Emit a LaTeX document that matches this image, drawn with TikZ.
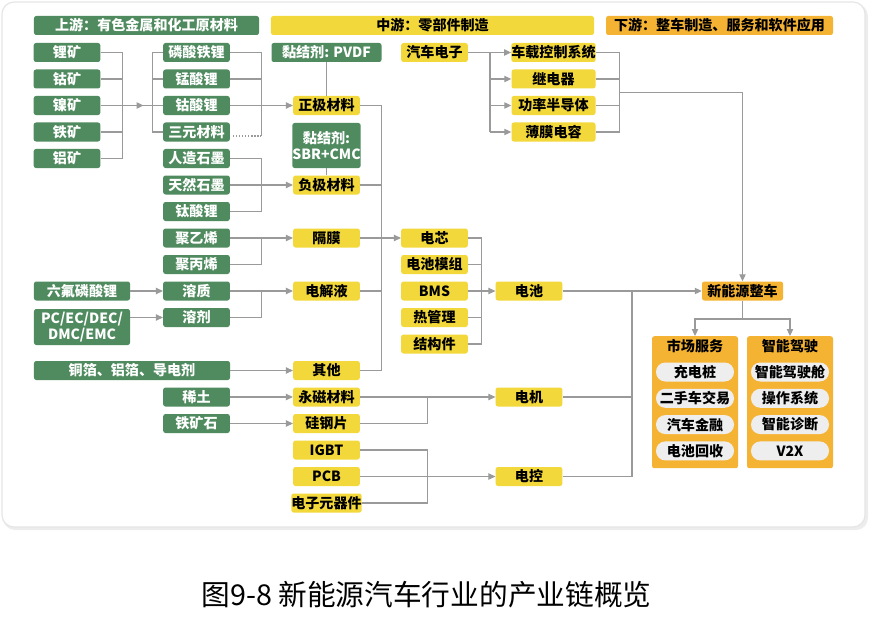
\documentclass[tikz,border=0pt]{standalone}
\usepackage{fontspec}
\setmainfont{Noto Sans CJK SC}
\usetikzlibrary{arrows.meta,positioning,calc}
\definecolor{Leaf}{HTML}{4F8B5F}
\definecolor{Sun}{HTML}{F3D83B}
\definecolor{Amber}{HTML}{F5B334}
\definecolor{Wire}{HTML}{9A9A9A}
\definecolor{Pill}{HTML}{EEEEEE}

\begin{document}
\begin{tikzpicture}[x=0.03cm,y=-0.03cm,
  box/.style={rounded corners=2pt,minimum height=0.57cm,inner sep=0pt,font=\bfseries\fontsize{12}{14}\selectfont},
  up/.style={box,fill=Leaf,text=white,minimum width=2.0cm},
  mid/.style={box,fill=Sun,text=black,minimum width=2.0cm},
  down/.style={box,fill=Amber,text=black},
  pill/.style={box,fill=Pill,rounded corners=0.28cm,minimum width=2.34cm},
  wire/.style={Wire,line width=0.9pt},
  feed/.style={wire,-{Triangle[length=2.1mm,width=1.9mm]}}]
\useasboundingbox (0,0) rectangle (877,620);
% card
\fill[black!7,rounded corners=0.36cm] (3,4) rectangle (868,530);
\draw[black!10,line width=1pt,fill=white,rounded corners=0.36cm] (2,2) rectangle (865,527);
% headers
\node[up,minimum width=6.75cm] (hup) at (146.5,25.5) {上游：有色金属和化工原材料};
\node[mid,minimum width=9.69cm] (hmid) at (432.5,25.5) {中游：零部件制造};
\node[down,minimum width=6.81cm] (hdown) at (719.5,25.5) {下游：整车制造、服务和软件应用};
% upstream
\foreach \n/\t [count=\i from 0] in {li/锂矿,co/钴矿,ni/镍矿,fe/铁矿,al/铝矿}
  \node[up] (\n) at (67,{52.5+26.5*\i}) {\t};
\foreach \n/\t [count=\i from 0] in {lfp/磷酸铁锂,lmo/锰酸锂,lco/钴酸锂,ncm/三元材料,agr/人造石墨,ngr/天然石墨,lto/钛酸锂,pe/聚乙烯,pp/聚丙烯,solu/溶质,solv/溶剂}
  \node[up] (\n) at (196.5,{52.5+26.5*\i}) {\t};
\node[up,minimum width=2.88cm] (lipf) at (82,291) {六氟磷酸锂};
\node[up,minimum width=2.88cm,minimum height=1.08cm,align=center] (solvsrc) at (82,327) {PC/EC/DEC/\\DMC/EMC};
\node[up,minimum width=5.88cm] (foil) at (132,370.5) {铜箔、铝箔、导电剂};
\node[up] (re) at (196.5,397) {稀土};
\node[up] (ironst) at (196.5,423.5) {铁矿石};
\node[up,minimum width=3.3cm] (pvdf) at (326.5,52.5) {黏结剂: PVDF};
\node[up,minimum height=1.35cm,align=center] (sbr) at (326.5,145.5) {黏结剂:\\SBR+CMC};
% midstream
\foreach \n/\t/\i in {cath/正极材料/2,anod/负极材料/5,sep/隔膜/7,elec/电解液/9,other/其他/12,pm/永磁材料/13,ss/硅钢片/14,igbt/IGBT/15,pcb/PCB/16,ecomp/电子元器件/17}
  \node[mid] (\n) at (326.5,{52.5+26.5*\i}) {\t};
\foreach \n/\t [count=\i from 7] in {cell/电芯,mod/电池模组,bms/BMS,therm/热管理,struct/结构件}
  \node[mid] (\n) at (434.5,{52.5+26.5*\i}) {\t};
\node[mid] (batt) at (529,291) {电池};
\node[mid] (motor) at (529,397) {电机};
\node[mid] (ctrl) at (529,476.5) {电控};
\node[mid] (auto) at (434.5,52.5) {汽车电子};
\foreach \n/\t [count=\i from 0] in {vcs/车载控制系统,relay/继电器,psemi/功率半导体,film/薄膜电容}
  \node[mid,minimum width=2.52cm] (\n) at (553.5,{52.5+26.5*\i}) {\t};
% downstream
\node[down,minimum width=2.43cm] (nev) at (742.5,291) {新能源整车};
\node[down,minimum width=2.58cm,minimum height=3.96cm,anchor=north] (mkt) at (695,336) {};
\node[down,minimum width=2.58cm,minimum height=3.96cm,anchor=north] (adas) at (790,336) {};
\node[box] (mkthead) at (695,346.5) {市场服务};
\node[box] (adashead) at (790,346.5) {智能驾驶};
\foreach \n/\t [count=\i from 0] in {chg/充电桩,used/二手车交易,fin/汽车金融,recy/电池回收}
  \node[pill] (\n) at (695,{372+26.3*\i}) {\t};
\foreach \n/\t [count=\i from 0] in {cock/智能驾驶舱,os/操作系统,diag/智能诊断,vtx/V2X}
  \node[pill] (\n) at (790,{372+26.3*\i}) {\t};
\node[font=\fontsize{24.5}{27}\selectfont] (cap) at (426.5,595) {图9-8 新能源汽车行业的产业链概览};

% ores -> cathode materials
\draw[wire] (li.east) -- ++(22,0) |- (al.east);
\foreach \n in {co,fe} \draw[wire] (\n.east) -- ++(22,0);
\draw[wire] (ni.east) -- (lco.west);
\draw[feed] (ni.east) -- ++(43,0);
\draw[wire] (lfp.west) -- ++(-10,0) |- (ncm.west);
\draw[wire] (lmo.west) -- ++(-10,0);
\draw[wire] (lfp.east) -- ++(31,0) -- ++(0,83.5);
\draw[wire] (lmo.east) -- ++(31,0);
\draw[wire,dash pattern=on 1pt off 1.6pt] ([yshift=-0.12cm]ncm.east) ++(3,0) -- ++(28,0);
\draw[feed] (lco.east) -- (cath.west);
% anode, separator, electrolyte, others
\draw[wire] (agr.east) -- ++(31,0) |- (lto.east);
\draw[feed] (ngr.east) -- (anod.west);
\draw[feed] (pe.east) -- (sep.west);
\draw[wire] (pp.east) -- ++(31,0) -- ++(0,-26.5);
\draw[feed] (lipf.east) -- (solu.west);
\draw[feed] (solvsrc.east |- solv) -- (solv.west);
\draw[feed] (solu.east) -- (elec.west);
\draw[wire] (solv.east) -- ++(31,0) -- ++(0,-26.5);
\draw[feed] (foil.east) -- (other.west);
\draw[feed] (re.east) -- (pm.west);
\draw[feed] (ironst.east) -- (ss.west);
\draw[wire] (pvdf.south) -- (cath.north);
\draw[wire] (sbr.south) -- (anod.north);
% battery
\draw[wire] (cath.east) -- ++(21,0) |- (other.east);
\foreach \n in {anod,elec} \draw[wire] (\n.east) -- ++(21,0);
\draw[feed] (sep.east) -- (cell.west);
\draw[wire] (cell.east) -- ++(13,0) |- (struct.east);
\foreach \n in {mod,therm} \draw[wire] (\n.east) -- ++(13,0);
\draw[feed] (bms.east) -- (batt.west);
% motor and control
\draw[feed] (pm.east) -- (motor.west);
\draw[wire] (ss.east) -- ++(67,0) -- ++(0,-26.5);
\draw[wire] (igbt.east) -- ++(67,0) |- (ecomp.east);
\draw[feed] (pcb.east) -- (ctrl.west);
% into vehicle
\coordinate (vehJ) at (632,291);
\draw[feed] (batt.east) -- (nev.west);
\draw[wire] (ctrl.east) -| (vehJ);
\draw[wire] (motor.east) -- (motor.east -| vehJ);
% car electronics
\coordinate (eJ) at (490,52.5);
\draw[feed] (auto.east) -- (vcs.west);
\draw[wire] (eJ) -- ++(0,79.5);
\foreach \n in {relay,psemi,film} \draw[feed] (eJ |- \n) -- (\n.west);
\draw[wire] (vcs.east) -- ++(23.5,0) |- (film.east);
\foreach \n in {relay,psemi} \draw[wire] (\n.east) -- ++(23.5,0);
\coordinate (eOut) at (619,92.5);
\draw[feed] (eOut) -| (nev.north);
% services
\coordinate (split) at (742.5,319);
\draw[wire] (nev.south) -- (split);
\draw[feed] (split) -| (mkt.north);
\draw[feed] (split) -| (adas.north);
\end{tikzpicture}
\end{document}
